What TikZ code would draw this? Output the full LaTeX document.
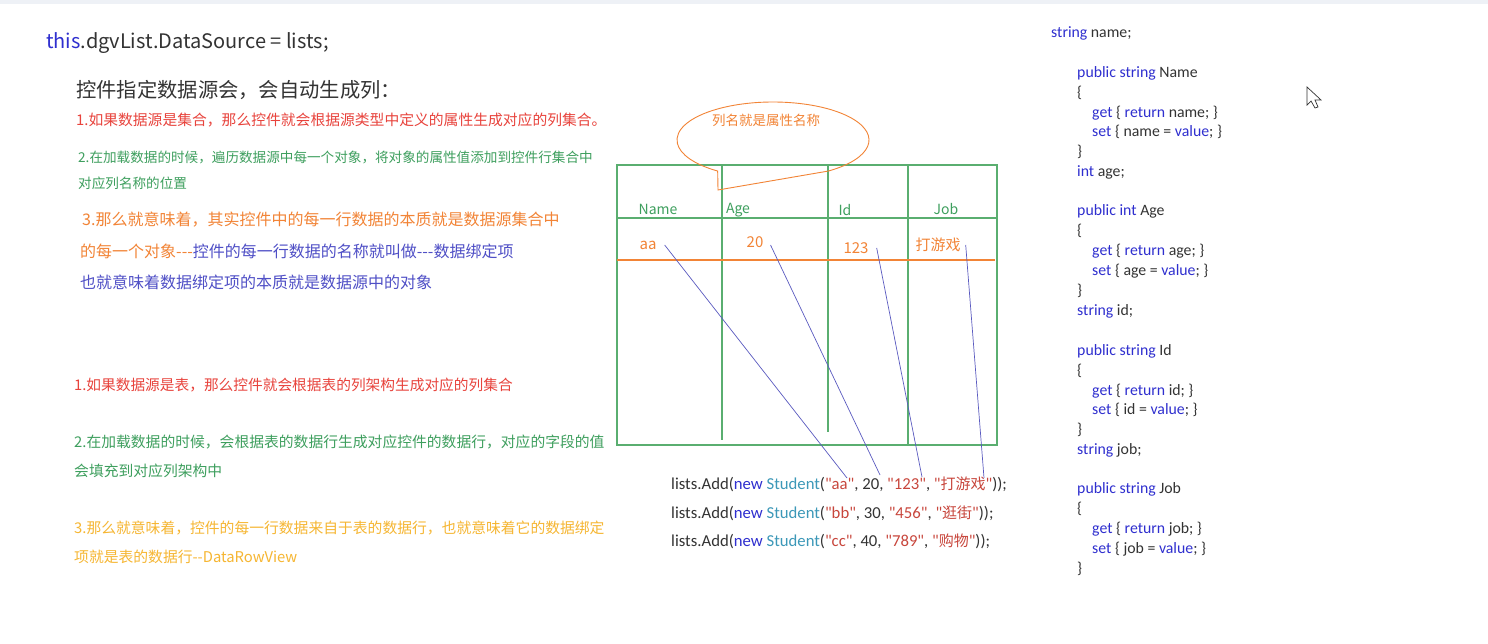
\documentclass[tikz,border=0pt]{standalone}
\usepackage{fontspec}
\setmainfont{Noto Sans CJK SC}
\newfontfamily\codefont{Carlito}
\newfontfamily\cjk{Noto Sans CJK SC}
\usetikzlibrary{positioning}

\definecolor{notered}{HTML}{E8433C}
\definecolor{notegreen}{HTML}{3E9F5E}
\definecolor{noteorange}{HTML}{F28436}
\definecolor{noteblue}{HTML}{4F4FC6}
\definecolor{notegold}{HTML}{F6B632}
\definecolor{darktext}{HTML}{333333}
\definecolor{gridgreen}{HTML}{5AAE70}
\definecolor{linkblue}{HTML}{5A5AC0}
\definecolor{kwblue}{HTML}{2F2FCF}
\definecolor{typeteal}{HTML}{3C98B8}
\definecolor{strred}{HTML}{C8463C}
\definecolor{topband}{HTML}{EEF1F6}

\newcommand{\fsz}[1]{\fontsize{#1}{#1}\selectfont}
\newcommand{\kw}[1]{\textcolor{kwblue}{#1}}
\newcommand{\strv}[1]{\textcolor{strred}{#1}}
\newcommand{\hanzi}[1]{{\cjk\fsz{15pt}#1}}

\begin{document}
\begin{tikzpicture}[
        x=1pt, y=1pt, yscale=-1,
        note/.style={
            anchor=west,
            inner sep=0pt
        },
        code/.style={
            anchor=base west,
            inner sep=0pt,
            text=darktext,
            font=\codefont\fsz{15.8pt}
        },
        addline/.style={
            anchor=base west,
            inner sep=0pt,
            text=darktext,
            font=\codefont\fsz{16.7pt}
        },
        grid/.style={draw=gridgreen, line width=1.1pt},
        link/.style={draw=linkblue, line width=0.7pt},
        colname/.style={inner sep=0pt, text=notegreen, font=\fsz{14pt}},
        cellval/.style={inner sep=0pt, text=noteorange, font=\fsz{15pt}}
    ]
    \useasboundingbox (0,0) rectangle (1488,644);
    \fill[white] (0,0) rectangle (1488,644);
    \fill[topband] (0,0) rectangle (1488,4);

    % left notes
    \node[note, text=darktext, font=\fsz{20pt}] (src) at (46,43)
        {\textcolor{kwblue}{this}.dgvList.DataSource = lists;};
    \node[note, text=darktext, font=\fsz{20.3pt}] (title) at (76,90)
        {控件指定数据源会，会自动生成列：};
    \node[note, text=notered, font=\fsz{14.8pt}] (listA) at (76,120)
        {1.如果数据源是集合，那么控件就会根据源类型中定义的属性生成对应的列集合。};
    \node[note, text=notegreen, font=\fsz{13.6pt}] (listB) at (78,157)
        {2.在加载数据的时候，遍历数据源中每一个对象，将对象的属性值添加到控件行集合中};
    \node[note, text=notegreen, font=\fsz{13.6pt}] (listBb) at (78,183)
        {对应列名称的位置};
    \node[note, text=noteorange, font=\fsz{16pt}] (listC) at (82,220)
        {3.那么就意味着，其实控件中的每一行数据的本质就是数据源集合中};
    \node[note, text=noteblue, font=\fsz{16pt}] (listCb) at (80,251)
        {\textcolor{noteorange}{的每一个对象-{}-{}-}控件的每一行数据的名称就叫做-{}-{}-数据绑定项};
    \node[note, text=noteblue, font=\fsz{16pt}] (listCc) at (80,282)
        {也就意味着数据绑定项的本质就是数据源中的对象};

    \node[note, text=notered, font=\fsz{14.7pt}] (tableA) at (74,385)
        {1.如果数据源是表，那么控件就会根据表的列架构生成对应的列集合};
    \node[note, text=notegreen, font=\fsz{14.8pt}] (tableB) at (74,442)
        {2.在加载数据的时候，会根据表的数据行生成对应控件的数据行，对应的字段的值};
    \node[note, text=notegreen, font=\fsz{14.8pt}] (tableBb) at (74,471)
        {会填充到对应列架构中};
    \node[note, text=notegold, font=\fsz{14.8pt}] (tableC) at (74,528)
        {3.那么就意味着，控件的每一行数据来自于表的数据行，也就意味着它的数据绑定};
    \node[note, text=notegold, font=\fsz{14.8pt}] (tableCb) at (74,557)
        {项就是表的数据行-{}-DataRowView};

    % grid
    \draw[grid] (617,165) rectangle (997,445);
    \draw[grid] (722,166) -- (722,440);
    \draw[grid] (828,166) -- (828,432);
    \draw[grid] (908,165) -- (908,445);
    \draw[grid] (617,218) -- (998,218);
    \draw[draw=noteorange, line width=1.1pt] (617,260) -- (995,260);

    \node[colname] (hName) at (658,209) {Name};
    \node[colname] (hAge) at (738,210) {Age};
    \node[colname] (hId) at (845,210) {Id};
    \node[colname] (hJob) at (946,209) {Job};

    \node[cellval] (vName) at (648,245) {aa};
    \node[cellval] (vAge) at (755,242) {20};
    \node[cellval] (vId) at (856,248) {123};
    \node[cellval] (vJob) at (938,245) {打游戏};

    % callout
    \draw[draw=noteorange, line width=0.9pt] (773,140) ++(54.8:96 and 38)
        arc[start angle=54.8, end angle=-234.8, x radius=96, y radius=38]
        -- (718,190) -- cycle;
    \node[inner sep=0pt, text=noteorange, font=\fsz{13.5pt}] (tip) at (766,120)
        {列名就是属性名称};

    % list code
    \node[addline] (add1) at (671,489)
        {lists.Add(\kw{new} \textcolor{typeteal}{Student}(\strv{"aa"}, 20, \strv{"123"}, \strv{"\hanzi{打游戏}"}));};
    \node[addline] (add2) at (671,518)
        {lists.Add(\kw{new} \textcolor{typeteal}{Student}(\strv{"bb"}, 30, \strv{"456"}, \strv{"\hanzi{逛街}"}));};
    \node[addline] (add3) at (671,546)
        {lists.Add(\kw{new} \textcolor{typeteal}{Student}(\strv{"cc"}, 40, \strv{"789"}, \strv{"\hanzi{购物}"}));};

    \coordinate (eName) at (847,478);
    \coordinate (eAge) at (880,475);
    \coordinate (eId) at (922,477);
    \coordinate (eJob) at (984,478);

    \draw[link] ([xshift=8pt]vName.east) -- (eName);
    \draw[link] ([xshift=7pt,yshift=3pt]vAge.east) -- (eAge);
    \draw[link] ([xshift=8pt]vId.east) -- (eId);
    \draw[link] ([xshift=5pt]vJob.east) -- (eJob);

    % class code
    \node[code] (c1) at (1051,38) {\kw{string} name;};
    \node[code] (c2) at (1077,78) {\kw{public} \kw{string} Name};
    \node[code] (c3) at (1077,98) {\{};
    \node[code] (c4) at (1092,118) {\kw{get} \{ \kw{return} name; \}};
    \node[code] (c5) at (1092,137) {\kw{set} \{ name = \kw{value}; \}};
    \node[code] (c6) at (1077,157) {\}};
    \node[code] (c7) at (1077,177) {\kw{int} age;};
    \node[code] (c8) at (1077,216) {\kw{public} \kw{int} Age};
    \node[code] (c9) at (1077,236) {\{};
    \node[code] (c10) at (1092,256) {\kw{get} \{ \kw{return} age; \}};
    \node[code] (c11) at (1092,276) {\kw{set} \{ age = \kw{value}; \}};
    \node[code] (c12) at (1077,295) {\}};
    \node[code] (c13) at (1077,315) {\kw{string} id;};
    \node[code] (c14) at (1077,355) {\kw{public} \kw{string} Id};
    \node[code] (c15) at (1077,375) {\{};
    \node[code] (c16) at (1092,395) {\kw{get} \{ \kw{return} id; \}};
    \node[code] (c17) at (1092,414) {\kw{set} \{ id = \kw{value}; \}};
    \node[code] (c18) at (1077,434) {\}};
    \node[code] (c19) at (1077,454) {\kw{string} job;};
    \node[code] (c20) at (1077,493) {\kw{public} \kw{string} Job};
    \node[code] (c21) at (1077,513) {\{};
    \node[code] (c22) at (1092,533) {\kw{get} \{ \kw{return} job; \}};
    \node[code] (c23) at (1092,553) {\kw{set} \{ job = \kw{value}; \}};
    \node[code] (c24) at (1077,573) {\}};

    % pointer
    \draw[fill=white, draw=darktext, line width=0.7pt] (1307,87) -- (1307,105) -- (1311,101)
        -- (1315,108) -- (1318,107) -- (1315,100) -- (1321,100) -- cycle;
\end{tikzpicture}
\end{document}
